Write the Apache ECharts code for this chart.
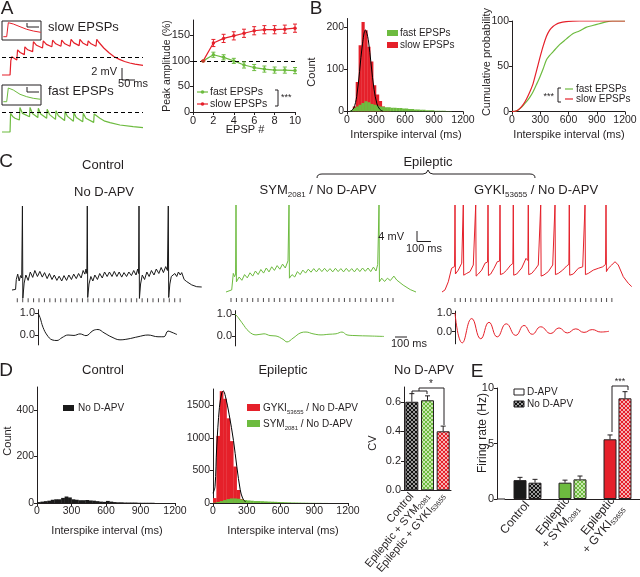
<!DOCTYPE html>
<html><head><meta charset="utf-8">
<script src="https://cdn.jsdelivr.net/npm/echarts@6.0.0/dist/echarts.min.js"></script>
<style>html,body{margin:0;padding:0;background:#fff;}#chart{width:640px;height:577px;}</style>
</head><body><div id="chart"></div>
<script>
// ================= DATA =================
// Panel A (left) example traces: [ms, mV] pairs
const slowTrace = [0,0, 31,0, 34,2.4, 38,3.05, 45,2.75, 57,2.5, 60,4.2, 70,3.75, 86,3.4, 88,4.7, 99,4.2, 118,3.9, 121,5.55, 133,4.95, 156,4.5, 159,5.7, 171,5.1, 192,4.7, 195,5.8, 207,5.2, 227,4.8, 230,5.8, 242,5.2, 262,4.8, 266,5.95, 277,5.35, 297,4.9, 300,5.95, 311,5.35, 329,4.9, 332,5.7, 343,5.2, 362,4.8, 365,5.95, 372,5.5, 392,4.5, 412,3.7, 432,3.05, 452,2.6, 472,2.25, 492,2.0, 512,1.8, 543,1.6];
const fastTrace = [0,0, 31,0, 33,3.1, 41,2.6, 50,2.3, 67,2.0, 69,4.1, 79,3.1, 106,2.55, 108,4.1, 117,3.1, 138,2.4, 140,3.95, 149,3.0, 172,2.3, 174,3.8, 183,2.9, 206,2.1, 208,3.55, 217,2.7, 241,1.9, 243,3.4, 252,2.6, 275,1.8, 277,3.2, 286,2.4, 311,1.7, 313,3.1, 323,2.3, 353,1.6, 355,3.0, 377,2.3, 396,1.8, 416,1.55, 454,1.17, 505,0.9, 543,0.72];
const slowInset = [1.3,3.3, 4.7,3.3, 6.3,17.3, 11.3,16, 18,13.3, 24.7,10.7, 31.3,9, 38.7,7.7];
const fastInset = [1.3,3.3, 4.7,3.3, 6.3,17, 11.3,15, 18,10.7, 24.7,8.3, 31.3,6.7, 38.7,5.7];
const slowDashLevel = 3.0, fastDashLevel = 3.33;

// Panel A (right): peak amplitude (%)
const epspNumber = [1,2,3,4,5,6,7,8,9,10];
const slowAmp = [100,135,144,149,154,159,161,161,162,164];
const slowAmpErr = [0,7,8,8,8,8,8,8,8,8];
const fastAmp = [100,112,107,100,92,87,84,82,82,81];
const fastAmpErr = [0,5,5,5,6,6,6,6,6,6];

// ISI histogram bin edges (ms)
const binEdges = [0,30,60,90,120,150,180,210,240,270,300,330,360,390,420,450,480,510,540,570,600,630,660,690,720,750,780,810,840,870,900,930,960,990,1020,1050,1080,1110,1140,1170,1200];
// Panel B
const slowIsiCounts = [0,0,12,70,157,212,192,153,118,62,40,25,12,5,2,0,0,0,0,0,0,0,0,0,0,0,0,0,0,0,0,0,0,0,0,0,0,0,0,0];
const fastIsiCounts = [0,3,8,12,16,20,24,22,18,16,14,12,11,10,10,9,9,8,8,7,7,6,6,5,5,4,4,3,3,3,2,2,2,2,1,1,0,0,0,0];
const slowFitB = [40,1, 70,8, 100,35, 130,95, 160,160, 190,193, 220,170, 250,110, 280,52, 310,18, 340,5, 370,1];
const cumIsi  = [0,50,85,120,154,190,224,260,295,330,365,400,435,470,505,575,645,715,786,856,926,1000,1066,1200];
const cumSlow = [0,1,3.7,8,14,22,31,45,59,72,83,90,94,96.5,98,99.3,99.8,100,100,100,100,100,100,100];
const cumFast = [0,1,3.5,7,11,16,22,30,38,47,57,62,66,70,74,80,86,89,93,95,97,99,100,100];

// Panel C traces: [ms, mV]
const ctrlTrace = [0,0, 25,0.2, 30,3.5, 40,5.3, 50,3.0, 60,4.8, 68,4.0, 73,28, 76,-2.7, 85,2.3, 97,5.0, 113,3.2, 128,6.0, 145,4.2, 160,6.5, 178,4.5, 195,6.2, 212,4.3, 228,5.8, 246,3.8, 262,5.5, 280,3.5, 296,5.0, 314,3.2, 330,4.6, 348,3.0, 364,4.8, 382,3.2, 398,5.0, 416,3.5, 432,5.3, 450,3.8, 466,5.5, 484,4.0, 498,6.5, 510,5.3, 518,7.0, 524,5.5, 527,28, 530,-2.5, 539,2.0, 552,4.5, 566,3.0, 580,5.0, 598,3.5, 614,5.5, 632,4.0, 648,6.0, 666,4.5, 682,6.0, 700,4.5, 716,6.2, 734,4.5, 750,6.0, 768,4.3, 784,5.8, 802,4.5, 818,6.0, 836,4.8, 852,6.5, 868,5.0, 880,7.0, 886,5.5, 889,28, 892,-2.8, 900,2.0, 912,5.0, 928,3.5, 944,6.0, 960,4.5, 976,6.5, 994,5.0, 1010,7.0, 1028,5.5, 1044,7.5, 1060,5.8, 1076,7.8, 1088,6.5, 1094,28, 1097,-2.5, 1105,2.0, 1115,4.5, 1129,4.0, 1140,5.5, 1153,4.5, 1165,6.0, 1178,5.0, 1188,5.8, 1205,3.5, 1223,2.8, 1258,1.7, 1293,1.1, 1328,1.0];
const symTrace = [0,0, 40,0.7, 51,6.2, 60,5.1, 67,6.0, 70,29, 73,3.4, 92,5.0, 111,3.9, 130,5.8, 149,4.7, 168,6.4, 187,5.3, 206,7.0, 225,5.8, 244,7.5, 263,6.3, 282,8.0, 301,6.7, 320,8.4, 339,7.2, 358,8.8, 377,7.6, 396,9.3, 415,8.0, 434,10.4, 441,29, 444,4.6, 462,5.8, 481,5.0, 500,6.8, 519,5.8, 538,7.3, 557,6.3, 576,7.6, 595,6.6, 614,7.8, 633,6.7, 652,7.9, 671,6.8, 690,7.9, 709,6.8, 728,7.8, 747,6.7, 766,7.9, 785,6.8, 804,7.8, 823,6.7, 842,7.9, 861,6.8, 880,7.8, 899,6.7, 918,7.9, 937,6.8, 956,8.0, 975,6.9, 994,8.0, 1013,6.8, 1032,8.3, 1050,7.0, 1062,9.2, 1071,29, 1074,3.4, 1090,4.6, 1110,3.5, 1130,4.6, 1150,3.8, 1175,5.3, 1195,4.0, 1240,2.3, 1290,0.8, 1330,0];
const gykiTrace = [0,0, 21,0.7, 44,3.4, 67,7.9, 79,7.6, 88,8.5, 91,29, 94,6.0, 114,7.3, 138,9.6, 146,10, 149,29, 152,5.6, 173,6.2, 196,6.8, 219,9.0, 233,9.5, 236,29, 239,5.3, 254,6.0, 278,7.3, 301,9.6, 319,10, 322,29, 325,5.5, 341,6.0, 364,7.9, 387,10.1, 403,10.3, 406,29, 409,5.8, 429,6.2, 453,7.3, 481,9.0, 496,9.5, 499,29, 502,5.6, 523,6.0, 558,8.0, 588,11.2, 601,10.5, 604,29, 607,5.8, 628,6.2, 651,7.5, 674,9.0, 688,9.4, 691,29, 694,5.3, 714,5.7, 744,6.8, 775,9.0, 788,9.4, 791,29, 794,5.8, 814,6.2, 845,7.3, 873,8.7, 888,9.2, 891,29, 894,5.6, 919,6.0, 954,7.9, 985,8.4, 998,9.0, 1001,29, 1004,5.8, 1024,6.2, 1059,7.3, 1094,7.9, 1125,8.4, 1145,9.2, 1148,29, 1151,6.8, 1164,7.9, 1188,9.0, 1211,10.1, 1234,9.0, 1269,5.1, 1304,2.9, 1328,1.8];
const ctrlStim = [37,75,113,151,189,227,265,303,341,379,417,455,493,531,569,607,645,683,721,759,797,835,873,911,949,987,1025,1063,1101,1139,1177];
const symStim = [35,73,111,149,187,224,262,300,338,376,413,451,489,527,565,602,640,678,716,754,791,829,867,905,943,980,1018,1056,1094,1132,1169];
const gykiStim = [91,128,164,201,237,274,311,347,384,420,457,494,530,567,603,640,677,713,750,786,823,860,896,933,969,1006,1043,1079,1116,1152,1189];
// autocorrelations: [lag ms, r]
const ctrlAC = [0,1.0, 16,0.8, 40,0.35, 72,0.0, 112,-0.22, 152,-0.25, 192,-0.12, 240,0.0, 288,-0.02, 336,0.05, 384,-0.03, 440,0.2, 480,0.25, 528,0.1, 592,-0.1, 656,-0.22, 720,-0.18, 800,-0.08, 880,0.0, 960,-0.08, 1008,-0.08, 1040,0.18, 1072,0.12, 1112,0.02];
const symAC = [0,1.0, 24,0.85, 56,0.6, 112,0.2, 168,0.05, 232,0.1, 280,0.02, 328,0.0, 384,-0.15, 416,-0.27, 464,-0.1, 528,0.15, 568,0.18, 624,0.1, 688,0.05, 752,0.08, 808,0.1, 856,0.18, 896,0.05, 960,0.02, 1080,0.0, 1192,-0.02];
const gykiAC = [0,1.0, 58,-0.6, 134,0.7, 206,-0.38, 272,0.5, 338,-0.28, 410,0.42, 486,-0.2, 552,0.33, 618,-0.14, 686,0.26, 766,-0.1, 832,0.2, 898,-0.07, 966,0.15, 1032,-0.04, 1098,0.11, 1166,-0.02, 1232,0.02];

// Panel D
const ctrlIsiCounts = [4,6,8,10,14,16,16,22,28,24,16,14,12,12,13,11,10,8,6,5,9,6,4,3,3,2,2,2,2,1,1,1,1,1,0,0,0,0,0,0];
const gykiIsiCounts = [75,1030,1717,1600,1300,950,560,200,60,20,0,0,0,0,0,0,0,0,0,0,0,0,0,0,0,0,0,0,0,0,0,0,0,0,0,0,0,0,0,0];
const symIsiCounts  = [5,15,30,45,60,70,70,65,55,45,40,35,30,30,28,25,22,20,18,15,14,12,10,8,7,6,5,4,3,3,2,2,1,1,0,0,0,0,0,0];
const gykiFitD = [0,150, 18,250, 33,860, 57,1465, 78,1690, 92,1720, 110,1640, 143,1364, 182,960, 212,555, 242,202, 263,76, 290,15];
const cvGroups = ['Control','Epileptic + SYM2081','Epileptic + GYKI53655'];
const cvMean = [0.60, 0.61, 0.40];
const cvErr  = [0.055, 0.03, 0.035];
// Panel E
const frGroups = ['Control','Epileptic + SYM2081','Epileptic + GYKI53655'];
const frDAPV = [1.7, 1.47, 5.38];
const frDAPVErr = [0.25, 0.23, 0.39];
const frNoDAPV = [1.47, 1.77, 9.07];
const frNoDAPVErr = [0.3, 0.3, 0.6];

// ================= STYLE / BUILD =================
const FONT = '"Liberation Sans", Arial, Helvetica, sans-serif';
const INK = '#231f20', RED = '#e5202a', GREEN = '#6dbb3f', BLACK = '#1a1a1a';
function hatch(bg, fg){
  const c=document.createElement('canvas'); c.width=4; c.height=4;
  const g=c.getContext('2d'); g.fillStyle=bg; g.fillRect(0,0,4,4); g.fillStyle=fg;
  for(let i=0;i<4;i++){ g.fillRect(i,i,1,1); g.fillRect(3-i,i,1,1); }
  return {image:c, repeat:'repeat'};
}
const HATCH_K = hatch('#9a9a9a', '#111'), HATCH_G = hatch('#c9e8b0', GREEN), HATCH_R = hatch('#f6b3b3', RED);

const G=[],X=[],Y=[],S=[],GR=[];
function grid(l,t,w,h,xa,ya,extra){const i=G.length;G.push(Object.assign({left:l,top:t,width:w,height:h,containLabel:false},extra||{}));xa.gridIndex=i;ya.gridIndex=i;X.push(xa);Y.push(ya);return i;}
function hid(min,max){return {type:'value',min,max,show:false,splitLine:{show:false}};}
function vax(min,max,ticks,o){o=o||{};
  const lab={show:true,customValues:ticks,color:INK,fontFamily:FONT,fontSize:o.fs||11,margin:o.margin||3,formatter:o.fmt||(v=>String(v))};
  return {type:'value',min,max,offset:o.offset||0,
    axisLine:{show:true,onZero:false,lineStyle:{color:INK,width:1}},
    axisTick:{show:true,length:3,customValues:ticks,lineStyle:{color:INK,width:1}},
    axisLabel:lab, splitLine:{show:false}};}
const pairs=a=>{const r=[];for(let i=0;i<a.length;i+=2)r.push([a[i],a[i+1]]);return r;};
function line(gi,data,color,w,extra){S.push(Object.assign({type:'line',xAxisIndex:gi,yAxisIndex:gi,data,symbol:'none',showSymbol:false,lineStyle:{color,width:w},itemStyle:{color},silent:true,clip:true},extra||{}));}
function dashed(v){return {silent:true,symbol:'none',label:{show:false},lineStyle:{color:'#000',type:[4,3],width:1},data:[{yAxis:v}]};}
function hist(gi,counts,color){return {type:'custom',xAxisIndex:gi,yAxisIndex:gi,clip:true,silent:true,
  data:counts.map((c,i)=>[binEdges[i],binEdges[i+1],c]),encode:{x:[0,1],y:2},
  renderItem:(p,api)=>{const a=api.coord([api.value(0),api.value(2)]),b=api.coord([api.value(1),0]);
    return {type:'rect',shape:{x:a[0],y:a[1],width:b[0]-a[0]+0.3,height:b[1]-a[1]},style:{fill:color}};}};}
function stim(gi,times,level){S.push({type:'scatter',xAxisIndex:gi,yAxisIndex:gi,data:times.map(t=>[t,level]),symbol:'rect',symbolSize:[1,4],itemStyle:{color:INK},silent:true});}
function errs(gi,data,color,cap,both,off){S.push({type:'custom',xAxisIndex:gi,yAxisIndex:gi,data,silent:true,z:5,
  renderItem:(p,api)=>{const x=api.value(0),m=api.value(1),e=api.value(2);
    const t=api.coord([x,m+e]),b=api.coord([x,both?m-e:m]);const cx=t[0]+(off||0);
    const ch=[{type:'line',shape:{x1:cx,y1:t[1],x2:cx,y2:b[1]},style:{stroke:color,lineWidth:1}},
              {type:'line',shape:{x1:cx-cap/2,y1:t[1],x2:cx+cap/2,y2:t[1]},style:{stroke:color,lineWidth:1}}];
    if(both) ch.push({type:'line',shape:{x1:cx-cap/2,y1:b[1],x2:cx+cap/2,y2:b[1]},style:{stroke:color,lineWidth:1}});
    return {type:'group',children:ch};}});}
const sub = s => s.replace(/(SYM|GYKI)(\d+)/,'$1{s|$2}');

// graphics helpers
function T(x,y,text,fs,align,rot,extra){GR.push({type:'text',x,y,rotation:rot||0,z:100,silent:true,
  style:Object.assign({text,fill:INK,fontFamily:FONT,fontSize:fs,align:align||'left',verticalAlign:'middle',lineHeight:fs+5,
    rich:{s:{fontSize:Math.round(fs*0.62),fontFamily:FONT,fill:INK,verticalAlign:'bottom',lineHeight:Math.round(fs*0.62)+1}}},extra||{})});}
function PL(pts,color,w){GR.push({type:'polyline',z:100,silent:true,shape:{points:pts},style:{stroke:color||INK,lineWidth:w||1,fill:null}});}
function R(x,y,w,h,fill,stroke){GR.push({type:'rect',z:100,silent:true,shape:{x,y,width:w,height:h},style:{fill,stroke:stroke||null,lineWidth:1}});}
function BZ(x1,y1,cx,cy,x2,y2){GR.push({type:'bezierCurve',z:100,silent:true,shape:{x1,y1,x2,y2,cpx1:cx,cpy1:cy},style:{stroke:INK,lineWidth:1,fill:null}});}

// ---- Panel A ----
const gSlow=grid(2,33,141,48,hid(0,543),hid(-1,7));
line(gSlow,pairs(slowTrace),RED,1.2,{markLine:dashed(slowDashLevel)});
const gFast=grid(2,102,141,36,hid(0,543),hid(-1,5));
line(gFast,pairs(fastTrace),GREEN,1.2,{markLine:dashed(fastDashLevel)});
const gSI=grid(2,21,39,19,hid(0,39),hid(0,19),{show:true,borderColor:INK,borderWidth:1});
line(gSI,pairs(slowInset),RED,1);
const gFI=grid(2,85,39,20,hid(0,39),hid(0,20),{show:true,borderColor:INK,borderWidth:1});
line(gFI,pairs(fastInset),GREEN,1);

const gAmp=grid(193,20,102,92,vax(0,10,[0,2,4,6,8,10]),vax(0,180,[0,50,100,150]));
line(gAmp,epspNumber.map((x,i)=>[x,fastAmp[i]]),GREEN,1.2,{symbol:'circle',showSymbol:true,symbolSize:3.5,markLine:dashed(100)});
line(gAmp,epspNumber.map((x,i)=>[x,slowAmp[i]]),RED,1.2,{symbol:'circle',showSymbol:true,symbolSize:3.5});
errs(gAmp,epspNumber.map((x,i)=>[x,fastAmp[i],fastAmpErr[i]]),GREEN,4,true);
errs(gAmp,epspNumber.map((x,i)=>[x,slowAmp[i],slowAmpErr[i]]),RED,4,true);

// ---- Panel B ----
const gHB=grid(347,18.5,116,93,vax(0,1200,[0,300,600,900,1200],{fs:10.5}),vax(0,220,[0,100,200],{fs:10.5}));
S.push(hist(gHB,slowIsiCounts,RED));
S.push(hist(gHB,fastIsiCounts,GREEN));
line(gHB,pairs(slowFitB),'#000',1,{smooth:0.35});
const gCum=grid(512,21,113,90.7,vax(0,1200,[0,300,600,900,1200],{fs:10.5}),vax(0,100,[0,50,100],{fs:10.5}));
line(gCum,cumIsi.map((t,i)=>[t,cumFast[i]]),GREEN,1.2,{smooth:0.25});
line(gCum,cumIsi.map((t,i)=>[t,cumSlow[i]]),RED,1.2,{smooth:0.25});

// ---- Panel C ----
const gC1=grid(12,200,190,105,hid(0,1330),hid(-5,30));
line(gC1,pairs(ctrlTrace),BLACK,1); stim(gC1,ctrlStim,-3.4);
const gC2=grid(226,202,190,105,hid(0,1330),hid(-5,30));
line(gC2,pairs(symTrace),GREEN,1); stim(gC2,symStim,-2.7);
const gC3=grid(442,202,190,105,hid(0,1330),hid(-5,30));
line(gC3,pairs(gykiTrace),RED,1); stim(gC3,gykiStim,-2.7);
const acFmt=v=>v.toFixed(1);
const gA1=grid(38,309.7,142,35.2,hid(0,1136),vax(-0.45,1.15,[0,1],{fmt:acFmt}));
line(gA1,pairs(ctrlAC),BLACK,1,{smooth:0.4});
const gA2=grid(235,310.7,150,35.2,hid(0,1200),vax(-0.45,1.15,[0,1],{fmt:acFmt}));
line(gA2,pairs(symAC),GREEN,1,{smooth:0.4});
const gA3=grid(455,311.1,155,32.7,hid(0,1240),vax(-0.65,1.1,[0,1],{fmt:acFmt}));
line(gA3,pairs(gykiAC),RED,1,{smooth:0.5});

// ---- Panel D ----
const gD1=grid(37,387,138,116,vax(0,1200,[0,300,600,900,1200],{fs:10.5}),vax(0,500,[0,200,400],{fs:10.5}));
S.push(hist(gD1,ctrlIsiCounts,BLACK));
const gD2=grid(213,389,135,114,vax(0,1200,[0,300,600,900,1200],{fs:10.5}),vax(0,1750,[0,500,1000,1500],{fs:10.5}));
S.push(hist(gD2,gykiIsiCounts,RED));
S.push(hist(gD2,symIsiCounts,GREEN));
line(gD2,pairs(gykiFitD),'#000',1,{smooth:0.35});

const catLabel = (fs,two)=>({show:true,interval:0,rotate:50,color:INK,fontFamily:FONT,fontSize:fs,margin:4,lineHeight:fs+1,
  formatter:v=>sub(two?v.replace(' + ','\n+ '):v),rich:{s:{fontSize:Math.round(fs*0.62),fontFamily:FONT,fill:INK,verticalAlign:'bottom'}}});
const gCV=grid(404,387,47,113,{type:'category',data:cvGroups,axisLine:{lineStyle:{color:INK}},axisTick:{show:false},axisLabel:catLabel(11,false)},
  vax(0,0.7,[0,0.2,0.4,0.6],{fmt:v=>v.toFixed(1),fs:11}));
const cvFill=[HATCH_K,HATCH_G,HATCH_R];
S.push({type:'bar',xAxisIndex:gCV,yAxisIndex:gCV,barWidth:13,silent:true,
  data:cvMean.map((v,i)=>({value:v,itemStyle:{color:cvFill[i],borderColor:INK,borderWidth:1}}))});
errs(gCV,cvMean.map((v,i)=>[i,v,cvErr[i]]),INK,5,false);

// ---- Panel E ----
const gE=grid(505,388,136,111,{type:'category',data:frGroups,axisLine:{lineStyle:{color:INK}},axisTick:{show:false},axisLabel:catLabel(12,true)},
  vax(0,10,[0,5,10],{fs:11,offset:8}));
const solidFill=[BLACK,GREEN,RED];
S.push({type:'bar',xAxisIndex:gE,yAxisIndex:gE,barWidth:13,barGap:'15%',silent:true,
  data:frDAPV.map((v,i)=>({value:v,itemStyle:{color:solidFill[i],borderColor:INK,borderWidth:1}}))});
S.push({type:'bar',xAxisIndex:gE,yAxisIndex:gE,barWidth:13,barGap:'15%',silent:true,
  data:frNoDAPV.map((v,i)=>({value:v,itemStyle:{color:cvFill[i],borderColor:INK,borderWidth:1}}))});
errs(gE,frDAPV.map((v,i)=>[i,v,frDAPVErr[i]]),INK,5,false,-7.5);
errs(gE,frNoDAPV.map((v,i)=>[i,v,frNoDAPVErr[i]]),INK,5,false,7.5);

// ---- Text & annotations ----
[['A',7,9],['B',316,9],['C',6,162],['D',6,371],['E',477,372]].forEach(a=>T(a[1],a[2],a[0],19,'center'));
T(48,27,'slow EPSPs',13); T(48,91,'fast EPSPs',13);
PL([[27,23],[27,27],[39,27]]); PL([[27,87],[27,92],[39,92]]);
T(117,72,'2 mV',11,'right'); T(133,84,'50 ms',11,'center'); PL([[122,68],[122,80],[135,80]]);
PL([[197,92],[208,92]],GREEN,1.2); GR.push({type:'circle',z:100,shape:{cx:202.5,cy:92,r:1.8},style:{fill:GREEN}});
PL([[197,104],[208,104]],RED,1.2); GR.push({type:'circle',z:100,shape:{cx:202.5,cy:104,r:1.8},style:{fill:RED}});
T(210,92,'fast EPSPs',10.5); T(210,104,'slow EPSPs',10.5);
PL([[275,90],[278,90],[278,106],[275,106]]); T(281,98,'***',9);
T(167,66,'Peak amplitude (%)',10.5,'center',Math.PI/2); T(245,130,'EPSP #',11,'center');
T(312,72,'Count',11,'center',Math.PI/2); T(406,135,'Interspike interval (ms)',11,'center');
R(387,30,11,6,GREEN); T(400,33,'fast EPSPs',10); R(387,42,11,6,RED); T(400,45,'slow EPSPs',10);
T(487,62,'Cumulative probability',11,'center',Math.PI/2); T(569,135,'Interspike interval (ms)',11,'center');
T(554,97,'***',9,'right'); PL([[561,88],[558,88],[558,102],[561,102]]);
PL([[565,89],[573,89]],GREEN,1.2); T(576,89,'fast EPSPs',10); PL([[565,99],[573,99]],RED,1.2); T(576,99,'slow EPSPs',10);
// C
T(103,165,'Control',13,'center'); T(104,192,'No D-APV',13,'center');
T(428,162,'Epileptic',13,'center');
BZ(317,178,317,174,322,174); PL([[322,174],[423,174]]); BZ(423,174,427,174,428,170); BZ(428,170,429,174,433,174); PL([[433,174],[530,174]]); BZ(530,174,535,174,535,178);
T(318,190,sub('SYM2081 / No D-APV'),13,'center'); T(536,190,sub('GYKI53655 / No D-APV'),13,'center');
T(404,237,'4 mV',11,'right'); PL([[417,231],[417,241.5],[431,241.5]]); T(424,249,'100 ms',11,'center');
PL([[395,337],[407,337]]); T(409,344,'100 ms',11,'center');
// D
T(103,370,'Control',13,'center'); T(283,370,'Epileptic',13,'center'); T(424,370,'No D-APV',13,'center');
T(8,441,'Count',11,'center',Math.PI/2);
T(107,531,'Interspike interval (ms)',11,'center'); T(283,531,'Interspike interval (ms)',11,'center');
R(63,405,11,6,BLACK); T(78,408,'No D-APV',10);
R(247,404,13,7,RED); T(263,408,sub('GYKI53655 / No D-APV'),10);
R(247,420,13,7,GREEN); T(263,424,sub('SYM2081 / No D-APV'),10);
T(373,443,'CV',11,'center',Math.PI/2);
PL([[412,394],[412,391],[427,391],[427,394]]); PL([[419,391],[419,388],[444,388],[444,425]]); T(431,384,'*',10,'center');
// E
T(483,433,'Firing rate (Hz)',12,'center',Math.PI/2);
R(514,389,10,6,'#fff',INK); T(527,392,'D-APV',10);
R(514,401,10,6,HATCH_K,INK); T(527,404,'No D-APV',10);
PL([[612,432],[612,386],[628,386],[628,390]]); T(620,382,'***',9,'center');
PL([[497,499],[505,499]]);

const chart=echarts.init(document.getElementById('chart'),null,{renderer:'canvas'});
chart.setOption({animation:false,backgroundColor:'#fff',textStyle:{fontFamily:FONT},grid:G,xAxis:X,yAxis:Y,series:S,graphic:{elements:GR}});
</script></body></html>
